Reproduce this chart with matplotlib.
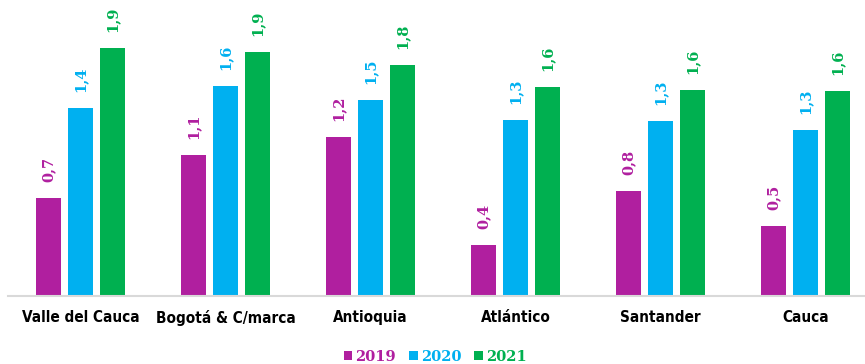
import matplotlib

matplotlib.use("Agg")

import matplotlib.pyplot as plt
import numpy as np

departments = ["Valle del Cauca", "Bogotá & C/marca", "Antioquia", "Atlántico", "Santander", "Cauca"]
years = ["2019", "2020", "2021"]
v2019 = [0.746, 1.074, 1.211, 0.389, 0.799, 0.534]
v2020 = [1.437, 1.601, 1.498, 1.345, 1.338, 1.267]
v2021 = [1.891, 1.860, 1.763, 1.593, 1.570, 1.565]
colors = ["#B01F9F", "#00B0F0", "#00B050"]

serif = dict(family="DejaVu Serif", weight="bold")

fig = plt.figure(figsize=(8.65, 3.64), dpi=100)
ax = fig.add_axes([8 / 865, 68 / 364, 870 / 865, 295 / 364])

x = np.arange(len(departments))
offset = 0.22
width = 0.172
for i, (vals, col, yr) in enumerate(zip([v2019, v2020, v2021], colors, years)):
    pos = x + (i - 1) * offset
    ax.bar(pos, vals, width, color=col, edgecolor="none", label=yr, zorder=2)
    for px, v in zip(pos, vals):
        ax.annotate(f"{v:.1f}".replace(".", ","), (px, v), xytext=(0, 11.5),
                    textcoords="offset points", rotation=90, ha="center", va="bottom",
                    fontsize=10.5, color=col, **serif)

ax.set_xlim(-0.5, 5.5)
ax.set_ylim(0, 2.25)
ax.set_yticks([])
ax.set_xticks(x)
ax.set_xticklabels(departments, fontsize=11, fontweight="bold", family="DejaVu Sans",
                   fontstretch="condensed")
ax.tick_params(axis="x", length=0, pad=10)
for side in ["top", "right", "left"]:
    ax.spines[side].set_visible(False)
ax.spines["bottom"].set_color("#D9D9D9")
ax.spines["bottom"].set_linewidth(1.5)

fig.legend(loc="lower center", bbox_to_anchor=(0.503, -0.036), ncol=3, frameon=False,
           handlelength=0.6, handleheight=0.6, handletextpad=0.2, columnspacing=0.9,
           labelcolor=colors, prop=dict(size=10.5, **serif))

fig.savefig("out.png", dpi=100)
